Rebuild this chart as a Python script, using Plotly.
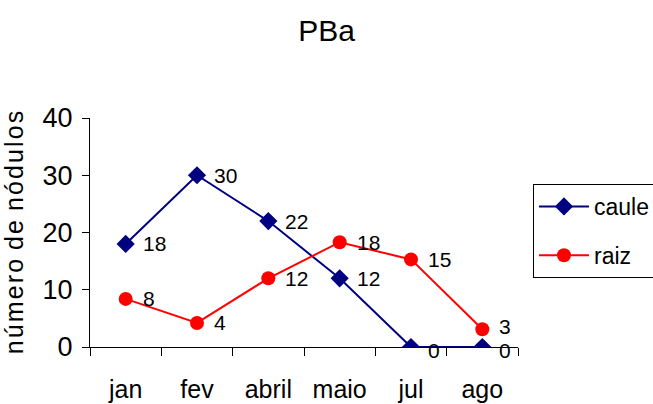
import plotly.graph_objects as go

months = ["jan", "fev", "abril", "maio", "jul", "ago"]
caule = [18, 30, 22, 12, 0, 0]
raiz = [8.4, 4.2, 12, 18.3, 15.3, 3.1]

FONT = "Liberation Sans, Arial, sans-serif"
NAVY = "#000080"
RED = "#ff0000"

fig = go.Figure()
fig.add_trace(go.Scatter(
    x=months, y=caule, name="caule", legendgroup="a",
    mode="lines+markers",
    line=dict(color=NAVY, width=2),
    marker=dict(symbol="diamond", size=14, color=NAVY),
))
fig.add_trace(go.Scatter(
    x=months, y=raiz, name="raiz", legendgroup="b",
    mode="lines+markers",
    line=dict(color=RED, width=2),
    marker=dict(symbol="circle", size=14, color=RED),
))

# data labels to the right of each point
for series, ys in (("caule", caule), ("raiz", raiz)):
    for m, v in zip(months, ys):
        dy = 0
        if series == "raiz" and m == "ago":
            dy = 3
        if series == "caule" and v == 0:
            dy = -3
        fig.add_annotation(x=m, y=v, text=f"{v:.0f}", showarrow=False,
                           xanchor="left", yanchor="middle", xshift=15, yshift=dy,
                           font=dict(size=21, color="black", family=FONT))

HS = "\u200a"
ytitle = (HS.join("número") + " " + HS + HS.join("de") + " " + HS + HS.join("nódulos"))

fig.update_layout(
    width=653, height=404,
    margin=dict(l=90, r=135, t=118, b=57, autoexpand=False),
    paper_bgcolor="white", plot_bgcolor="white",
    font=dict(family=FONT, size=22, color="black"),
    title=dict(text="PBa", x=0.5, xref="container", xanchor="center",
               y=0.925, yanchor="middle", font=dict(size=30)),
    showlegend=True,
    legend=dict(x=1.035, xanchor="left", y=0.712, yanchor="top",
                bordercolor="black", borderwidth=1, bgcolor="white",
                font=dict(size=23), traceorder="grouped", tracegroupgap=16,
                itemwidth=50),
    xaxis=dict(type="category", range=[-0.5, 5.5], showgrid=False,
               showline=True, linecolor="black", linewidth=1,
               ticks="outside", tickson="boundaries", ticklen=8,
               tickcolor="black", tickfont=dict(size=25), zeroline=False,
               ticklabelstandoff=20),
    yaxis=dict(range=[0, 40], dtick=10, showgrid=False, showline=True,
               linecolor="black", linewidth=1, ticks="outside", ticklen=7,
               tickcolor="black", tickfont=dict(size=27), zeroline=False,
               ticklabelstandoff=4,
               title=dict(text=ytitle, font=dict(size=25), standoff=12)),
)

fig.write_html("out.html")
